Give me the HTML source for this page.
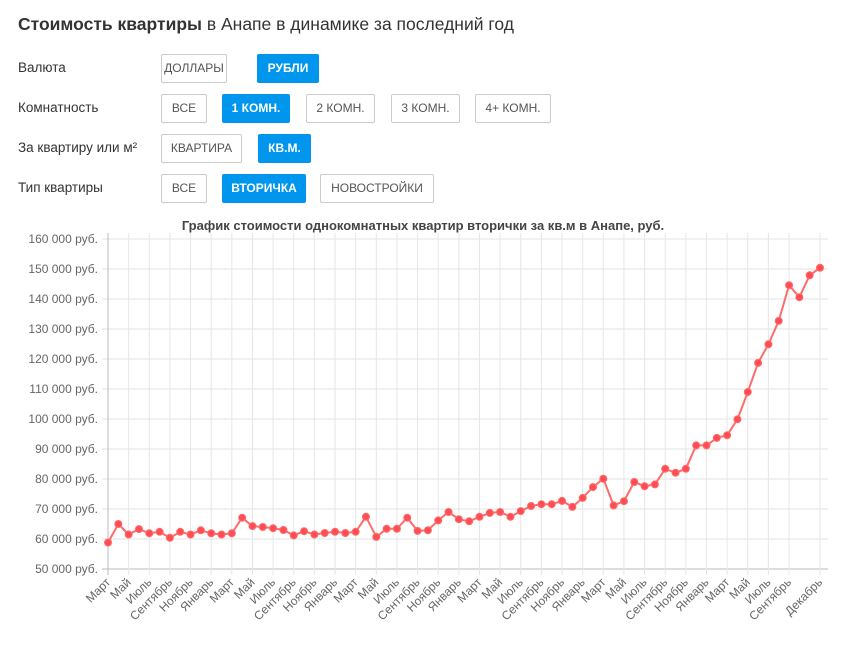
<!DOCTYPE html>
<html><head><meta charset="utf-8">
<style>
body{margin:0;width:846px;height:646px;background:#fff;font-family:"Liberation Sans",sans-serif;color:#333;position:relative;overflow:hidden}
.h{position:absolute;left:18px;top:14px;font-size:17.5px;color:#333}
.lbl{position:absolute;left:18px;font-size:13.5px;color:#333}
.btn{position:absolute;height:29px;box-sizing:border-box;border:1px solid #ccc;border-radius:2px;font-size:12px;line-height:27px;text-align:center;color:#555;background:#fff}
.btn.on{background:#0096ee;border-color:#0096ee;color:#fff;font-weight:bold}
</style></head><body>
<div class="h"><b>Стоимость квартиры</b> в Анапе в динамике за последний год</div>
<div class="lbl" style="top:60px">Валюта</div>
<div class="btn" style="left:161px;top:54px;width:66px">ДОЛЛАРЫ</div>
<div class="btn on" style="left:257px;top:54px;width:62px">РУБЛИ</div>
<div class="lbl" style="top:100px">Комнатность</div>
<div class="btn" style="left:161px;top:94px;width:46px">ВСЕ</div>
<div class="btn on" style="left:222px;top:94px;width:68px">1 КОМН.</div>
<div class="btn" style="left:306px;top:94px;width:69px">2 КОМН.</div>
<div class="btn" style="left:391px;top:94px;width:69px">3 КОМН.</div>
<div class="btn" style="left:475px;top:94px;width:76px">4+ КОМН.</div>
<div class="lbl" style="top:140px">За квартиру или м²</div>
<div class="btn" style="left:161px;top:134px;width:81px">КВАРТИРА</div>
<div class="btn on" style="left:258px;top:134px;width:53px">КВ.М.</div>
<div class="lbl" style="top:180px">Тип квартиры</div>
<div class="btn" style="left:161px;top:174px;width:46px">ВСЕ</div>
<div class="btn on" style="left:222px;top:174px;width:84px">ВТОРИЧКА</div>
<div class="btn" style="left:320px;top:174px;width:114px">НОВОСТРОЙКИ</div>
<svg id="chart" width="846" height="646" style="position:absolute;left:0;top:0"></svg>
<script>
const months=["Январь","Февраль","Март","Апрель","Май","Июнь","Июль","Август","Сентябрь","Октябрь","Ноябрь","Декабрь"];
const values=[58.8,65,61.5,63.3,61.9,62.4,60.4,62.4,61.5,62.9,61.9,61.5,61.9,67.1,64.3,64,63.6,63,61.2,62.6,61.5,62,62.4,62,62.4,67.4,60.7,63.4,63.4,67.1,62.7,62.9,66.2,69,66.6,65.9,67.4,68.7,69,67.4,69.3,71,71.6,71.6,72.7,70.7,73.7,77.3,80.1,71.2,72.6,79,77.6,78.2,83.4,82.1,83.4,91.2,91.2,93.7,94.6,99.9,109,118.7,124.9,132.7,144.6,140.6,147.9,150.4].map(v=>v*1000);
const yTicks=[50000,60000,70000,80000,90000,100000,110000,120000,130000,140000,150000,160000];
const startMonth=2;
const NS="http://www.w3.org/2000/svg";
const svg=document.getElementById('chart');
const X0=108,X1=820,Y0=569,Y1=239,YMIN=50000,YMAX=160000;
const xs=i=>X0+(X1-X0)*i/(values.length-1);
const ys=v=>Y0-(v-YMIN)/(YMAX-YMIN)*(Y0-Y1);
function mk(t,a){const e=document.createElementNS(NS,t);for(const k in a)e.setAttribute(k,a[k]);svg.appendChild(e);return e;}
const title=mk('text',{x:423,y:230,'text-anchor':'middle','font-size':13,'font-weight':'bold',fill:'#444'});
title.textContent="График стоимости однокомнатных квартир вторички за кв.м в Анапе, руб.";


yTicks.forEach(v=>{
 const g=mk('line',{x1:102,x2:828,y1:ys(v),y2:ys(v),stroke:v===YMIN?'#bbb':'#e3e3e3','stroke-width':1});
 
 
 const t=mk('text',{x:98,y:ys(v)+4,'text-anchor':'end','font-size':12,fill:'#666'});
 t.textContent=v.toLocaleString('ru-RU').replace(/\s/g,' ')+' руб.';
 t.textContent=String(v).replace(/\B(?=(\d{3})+(?!\d))/g,' ')+' руб.';
 
 
});
const last=values.length-1;
for(let i=0;i<values.length;i++){
 if(!(i%2===0&&i<=last-3)&&i!==last)continue;
 const x=xs(i);
 const g=mk('line',{x1:x,x2:x,y1:Y1-6,y2:Y0+6,stroke:i===0?'#bbb':'#e6e6e6','stroke-width':1});
 
 
 const t=mk('text',{x:x+3,y:Y0+14,'text-anchor':'end','font-size':12,fill:'#666',transform:`rotate(-45 ${x+3} ${Y0+14})`});
 t.textContent=months[(startMonth+i)%12];
 
 
}
const p=mk('polyline',{points:values.map((v,i)=>xs(i)+','+ys(v)).join(' '),fill:'none',stroke:'#ff6b6b','stroke-width':2});


values.forEach((v,i)=>{
 const c=mk('circle',{cx:xs(i),cy:ys(v),r:3.5,fill:'#ff4d55',stroke:'#ff6b6b','stroke-width':1});
 
 
});
</script>
</body></html>
